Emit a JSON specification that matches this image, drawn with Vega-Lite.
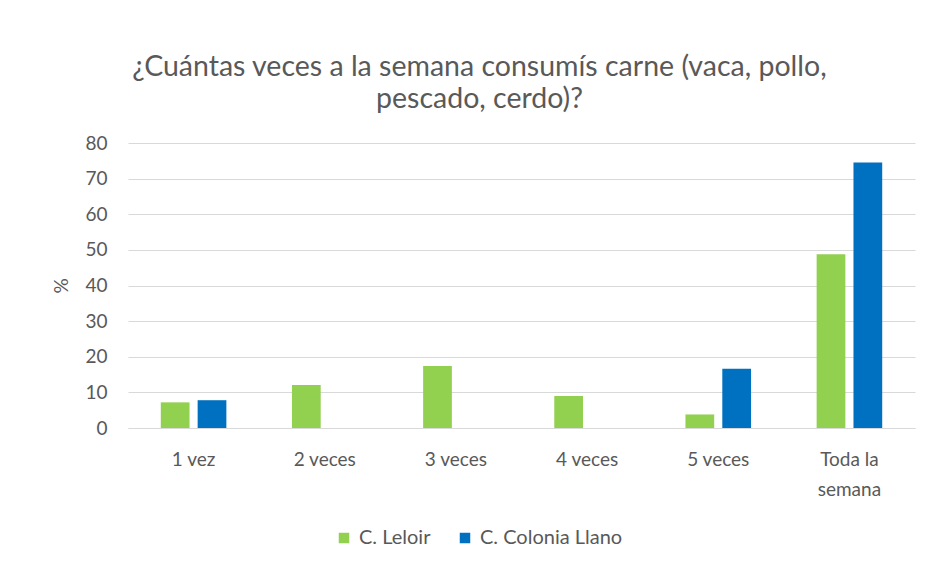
{
  "$schema": "https://vega.github.io/schema/vega-lite/v6.json",
  "width": 787,
  "height": 285,
  "autosize": {"type": "none"},
  "padding": {"left": 128, "top": 143, "right": 14, "bottom": 142},
  "background": "white",
  "title": {
    "text": ["¿Cuántas veces a la semana consumís carne (vaca, pollo,", "pescado, cerdo)?"],
    "font": "Lato",
    "fontSize": 28.5,
    "fontWeight": "normal",
    "color": "#595959",
    "anchor": "middle",
    "dx": -42,
    "offset": 21,
    "lineHeight": 32
  },
  "data": {
    "values": [
      {"cat": "1 vez", "serie": "C. Leloir", "v": 7.2},
      {"cat": "1 vez", "serie": "C. Colonia Llano", "v": 7.8},
      {"cat": "2 veces", "serie": "C. Leloir", "v": 12.1},
      {"cat": "3 veces", "serie": "C. Leloir", "v": 17.4},
      {"cat": "4 veces", "serie": "C. Leloir", "v": 9.0},
      {"cat": "5 veces", "serie": "C. Leloir", "v": 3.8},
      {"cat": "5 veces", "serie": "C. Colonia Llano", "v": 16.6},
      {"cat": "Toda la semana", "serie": "C. Leloir", "v": 48.8},
      {"cat": "Toda la semana", "serie": "C. Colonia Llano", "v": 74.5}
    ]
  },
  "mark": {"type": "bar"},
  "encoding": {
    "x": {
      "field": "cat",
      "type": "nominal",
      "sort": null,
      "scale": {"paddingInner": 0.5, "paddingOuter": 0.25},
      "axis": {
        "title": null,
        "labelAngle": 0,
        "labelFont": "Lato",
        "labelFontSize": 19,
        "labelColor": "#595959",
        "labelPadding": 22,
        "ticks": false,
        "domainColor": "#d9d9d9",
        "labelExpr": "datum.label == 'Toda la semana' ? ['Toda la', 'semana'] : datum.label",
        "labelLineHeight": 30
      }
    },
    "xOffset": {
      "field": "serie",
      "type": "nominal",
      "sort": ["C. Leloir", "C. Colonia Llano"],
      "scale": {"paddingInner": 0.22, "paddingOuter": 0}
    },
    "y": {
      "field": "v",
      "type": "quantitative",
      "scale": {"domain": [0, 80]},
      "axis": {
        "title": "%",
        "titleFont": "Lato",
        "titleFontSize": 19,
        "titleFontWeight": "normal",
        "titleColor": "#595959",
        "titlePadding": 13,
        "values": [0, 10, 20, 30, 40, 50, 60, 70, 80],
        "labelFont": "Lato",
        "labelFontSize": 19,
        "labelColor": "#595959",
        "labelPadding": 21,
        "ticks": false,
        "domain": false,
        "gridColor": "#d9d9d9"
      }
    },
    "color": {
      "field": "serie",
      "type": "nominal",
      "sort": ["C. Leloir", "C. Colonia Llano"],
      "scale": {"domain": ["C. Leloir", "C. Colonia Llano"], "range": ["#92D050", "#0070C0"]},
      "legend": {
        "title": null,
        "orient": "none",
        "direction": "horizontal",
        "legendX": 206,
        "legendY": 385,
        "symbolType": "square",
        "symbolSize": 110,
        "symbolStrokeWidth": 0,
        "labelFont": "Lato",
        "labelFontSize": 20,
        "labelColor": "#595959",
        "columnPadding": 24,
        "labelOffset": 5
      }
    }
  },
  "config": {"view": {"stroke": null}}
}
